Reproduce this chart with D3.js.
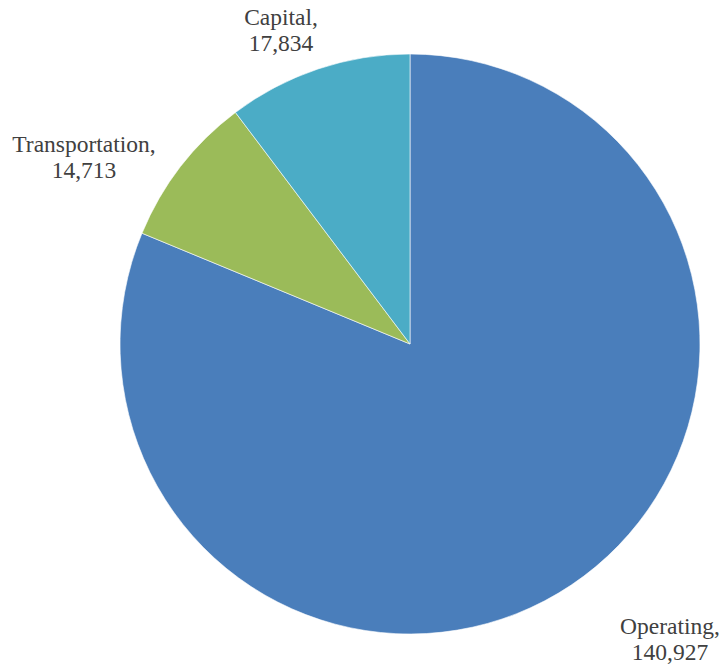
<!DOCTYPE html>
<html>
<head>
<meta charset="utf-8">
<script src="https://cdn.jsdelivr.net/npm/d3@7"></script>
<style>
  body { margin: 0; background: #fff; }
</style>
</head>
<body>
<div id="chart"></div>
<script>
const categories = ["Operating", "Transportation", "Capital"];
const values = [140927, 14713, 17834];
const colors = ["#4a7ebb", "#9bbb59", "#4bacc6"];

// label anchor positions (centre of the two-line label)
const labelPos = [[670, 640], [84, 158], [281, 31]];

const width = 724;
const height = 667;
const cx = 410;
const cy = 344;
const radius = 290;

const data = categories.map((c, i) => ({ name: c, value: values[i], color: colors[i], pos: labelPos[i] }));

const svg = d3
  .select("#chart")
  .append("svg")
  .attr("width", width)
  .attr("height", height);

const pie = d3.pie().sort(null).value((d) => d.value);
const arc = d3.arc().innerRadius(0).outerRadius(radius);

const g = svg.append("g").attr("transform", `translate(${cx}, ${cy})`);

g.selectAll("path")
  .data(pie(data))
  .enter()
  .append("path")
  .attr("d", arc)
  .style("fill", (d) => d.data.color)
  .style("stroke", "#ffffff")
  .style("stroke-width", 0.6);

const fmt = d3.format(",");

const labels = svg
  .selectAll("text.lbl")
  .data(data)
  .enter()
  .append("text")
  .attr("class", "lbl")
  .attr("text-anchor", "middle")
  .style("font-family", "'Times New Roman', 'Liberation Serif', serif")
  .style("font-size", "23.5px")
  .style("fill", "#404040");

labels
  .append("tspan")
  .attr("x", (d) => d.pos[0])
  .attr("y", (d) => d.pos[1] - 6)
  .text((d) => d.name + ",");

labels
  .append("tspan")
  .attr("x", (d) => d.pos[0])
  .attr("y", (d) => d.pos[1] + 20)
  .text((d) => fmt(d.value));
</script>
</body>
</html>
